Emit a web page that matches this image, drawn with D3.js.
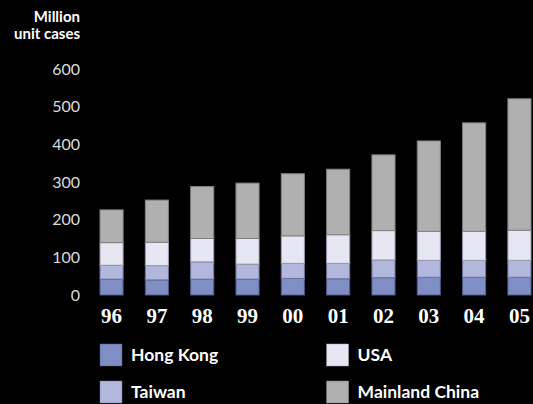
<!DOCTYPE html>
<html>
<head>
<meta charset="utf-8">
<script src="https://cdn.jsdelivr.net/npm/d3@7"></script>
<style>
  body { margin: 0; background: #000; }
  svg { display: block; }
</style>
</head>
<body>
<div id="chart"></div>
<script>
// chart data
var years = ["96", "97", "98", "99", "00", "01", "02", "03", "04", "05"];
var hongKong = [42, 40, 42, 42, 44, 43, 46, 47, 47, 47];
var taiwan = [37, 38, 46, 40, 40, 41, 47, 45, 45, 45];
var usa = [60, 62, 62, 68, 73, 76, 78, 77, 77, 80];
var mainlandChina = [87, 112, 138, 147, 165, 174, 201, 240, 288, 349];
var seriesNames = ["Hong Kong", "Taiwan", "USA", "Mainland China"];
var yTicks = [0, 100, 200, 300, 400, 500, 600];

var svgWidth = 533;
var svgHeight = 404;
var colors = ["#7f8ec4", "#b1b7dd", "#e7e7f3", "#b0b0b0"];
var strokes = ["#4f5a88", "#6f7599", "#9a9ab0", "#808080"];

var svg = d3.select("#chart")
  .append("svg")
  .attr("width", svgWidth)
  .attr("height", svgHeight)
  .style("background", "#000");

// build rows for the stack
var rows = years.map(function(y, i) {
  return {
    year: y,
    "Hong Kong": hongKong[i],
    "Taiwan": taiwan[i],
    "USA": usa[i],
    "Mainland China": mainlandChina[i]
  };
});

var stack = d3.stack().keys(seriesNames);
var stacked = stack(rows);

var xScale = d3.scaleBand()
  .domain(years)
  .range([100, 531])
  .paddingInner(0.49)
  .paddingOuter(0);

var yScale = d3.scaleLinear()
  .domain([0, 600])
  .range([295, 69]);

// y tick labels (no axis line)
svg.append("g")
  .selectAll("text")
  .data(yTicks)
  .enter()
  .append("text")
  .attr("x", 80)
  .attr("y", d => yScale(d))
  .attr("dy", "0.35em")
  .attr("text-anchor", "end")
  .attr("font-family", "Lato, 'Open Sans', sans-serif")
  .attr("font-size", "16px")
  .attr("fill", "#dcdcdc")
  .text(d => d);

// unit label
var unitText = svg.append("text")
  .attr("text-anchor", "end")
  .attr("font-family", "Lato, 'Open Sans', sans-serif")
  .attr("font-weight", "bold")
  .attr("font-size", "15px")
  .attr("fill", "#fff");
unitText.append("tspan").attr("x", 80).attr("y", 22).text("Million");
unitText.append("tspan").attr("x", 80).attr("y", 38.5).text("unit cases");

// stacked bars
svg.append("g")
  .selectAll("g")
  .data(stacked)
  .enter()
  .append("g")
  .attr("fill", (d, i) => colors[i])
  .attr("stroke", (d, i) => strokes[i])
  .attr("stroke-width", 1)
  .selectAll("rect")
  .data(d => d)
  .enter()
  .append("rect")
  .attr("x", d => xScale(d.data.year))
  .attr("y", d => yScale(d[1]))
  .attr("width", xScale.bandwidth())
  .attr("height", d => yScale(d[0]) - yScale(d[1]));

// year labels
svg.append("g")
  .selectAll("text")
  .data(years)
  .enter()
  .append("text")
  .attr("x", d => xScale(d) + xScale.bandwidth() / 2)
  .attr("y", 323)
  .attr("text-anchor", "middle")
  .attr("font-family", "'Liberation Serif', serif")
  .attr("font-weight", "bold")
  .attr("font-size", "21px")
  .attr("fill", "#fff")
  .text(d => d);

// legend
var legendX = [xScale("96"), xScale("01")];
var legendY = [344, 381];
var legendPos = [[0, 0], [0, 1], [1, 0], [1, 1]];

var legend = svg.append("g")
  .selectAll("g")
  .data(seriesNames)
  .enter()
  .append("g")
  .attr("transform", (d, i) => `translate(${legendX[legendPos[i][0]]}, ${legendY[legendPos[i][1]]})`);

legend.append("rect")
  .attr("width", 22)
  .attr("height", 22)
  .attr("fill", (d, i) => colors[i])
  .attr("stroke", (d, i) => strokes[i])
  .attr("stroke-width", 0.5);

legend.append("text")
  .attr("x", 31)
  .attr("y", 17)
  .attr("font-family", "Lato, 'Open Sans', sans-serif")
  .attr("font-weight", "bold")
  .attr("font-size", "17.5px")
  .attr("fill", "#fff")
  .text(d => d);
</script>
</body>
</html>
